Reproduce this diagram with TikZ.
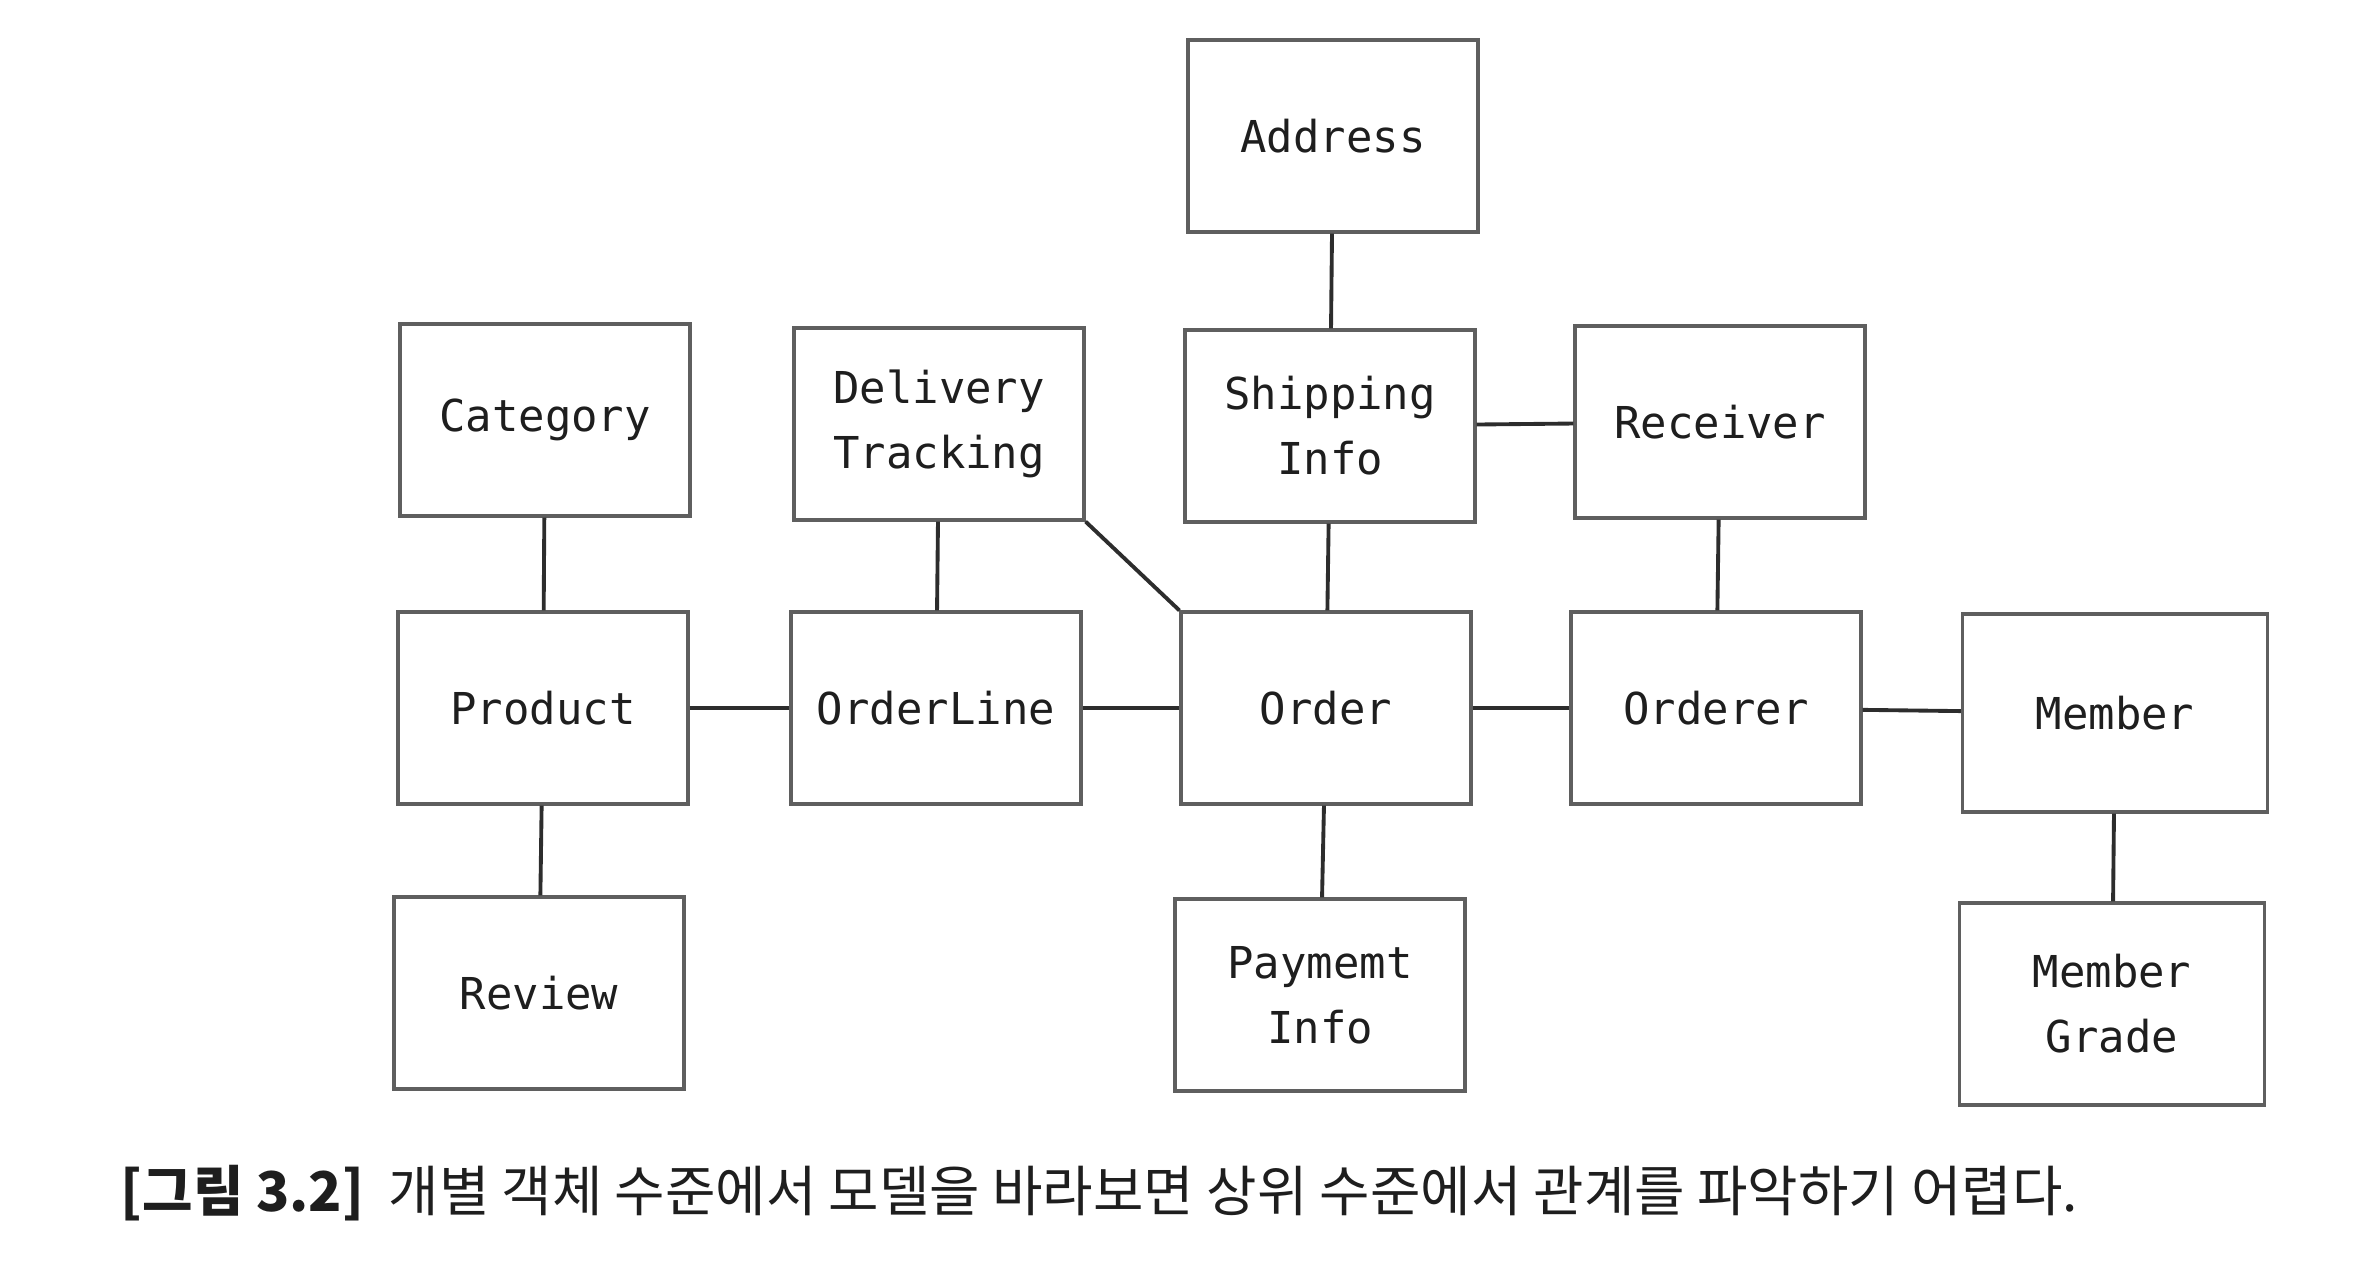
\documentclass[tikz,border=0pt]{standalone}
\usepackage{fontspec}
\usepackage{tikz}
\usetikzlibrary{positioning, calc}
\setmonofont{DejaVu Sans Mono}
\newfontfamily\krfont{Noto Sans CJK KR}
\definecolor{boxline}{RGB}{95,95,95}
\definecolor{linkline}{RGB}{45,45,45}
\definecolor{inkblack}{RGB}{30,30,30}

\begin{document}
\begin{tikzpicture}[
  font=\ttfamily,
  entity/.style={rectangle, draw=boxline, line width=0.9pt, minimum width=2.9cm, minimum height=1.92cm, align=center, text=inkblack, font=\ttfamily\fontsize{12.5}{18.5}\selectfont},
  link/.style={line width=1.1pt, linkline}
]
  \useasboundingbox (0,0) rectangle (23.68,-12.66);
  % Top row
  \node[entity] (address) at (13.33,-1.36) {Address};
  % Second row
  \node[entity] (category) at (5.45,-4.2) {Category};
  \node[entity] (delivery) at (9.39,-4.24) {Delivery\\Tracking};
  \node[entity] (shipping) at (13.3,-4.26) {Shipping\\Info};
  \node[entity] (receiver) at (17.2,-4.22) {Receiver};
  % Middle row
  \node[entity] (product) at (5.43,-7.08) {Product};
  \node[entity] (orderline) at (9.36,-7.08) {OrderLine};
  \node[entity] (order) at (13.26,-7.08) {Order};
  \node[entity] (orderer) at (17.16,-7.08) {Orderer};
  \node[entity, minimum width=3.05cm, minimum height=1.98cm] (member) at (21.15,-7.13) {Member};
  % Bottom row
  \node[entity] (review) at (5.39,-9.93) {Review};
  \node[entity] (payment) at (13.2,-9.95) {Paymemt\\Info};
  \node[entity, minimum width=3.05cm, minimum height=2.02cm] (grade) at (21.12,-10.04) {Member\\Grade};
  % Links
  \draw[link] (address) -- (shipping);
  \draw[link] (shipping) -- (receiver);
  \draw[link] (shipping) -- (order);
  \draw[link] (category) -- (product);
  \draw[link] (delivery) -- (orderline);
  \draw[link] (delivery.south east) -- (order.north west);
  \draw[link] (receiver) -- (orderer);
  \draw[link] (product) -- (orderline);
  \draw[link] (orderline) -- (order);
  \draw[link] (order) -- (orderer);
  \draw[link] (orderer) -- (member);
  \draw[link] (product) -- (review);
  \draw[link] (order) -- (payment);
  \draw[link] (member) -- (grade);
  % Caption
  \node[anchor=west, inner sep=0pt, text=inkblack, font=\krfont\fontsize{15.6}{18}\selectfont] (caption) at (1.2,-11.93) {{\bfseries [그림 3.2]}\ \ 개별 객체 수준에서 모델을 바라보면 상위 수준에서 관계를 파악하기 어렵다.};
\end{tikzpicture}
\end{document}
